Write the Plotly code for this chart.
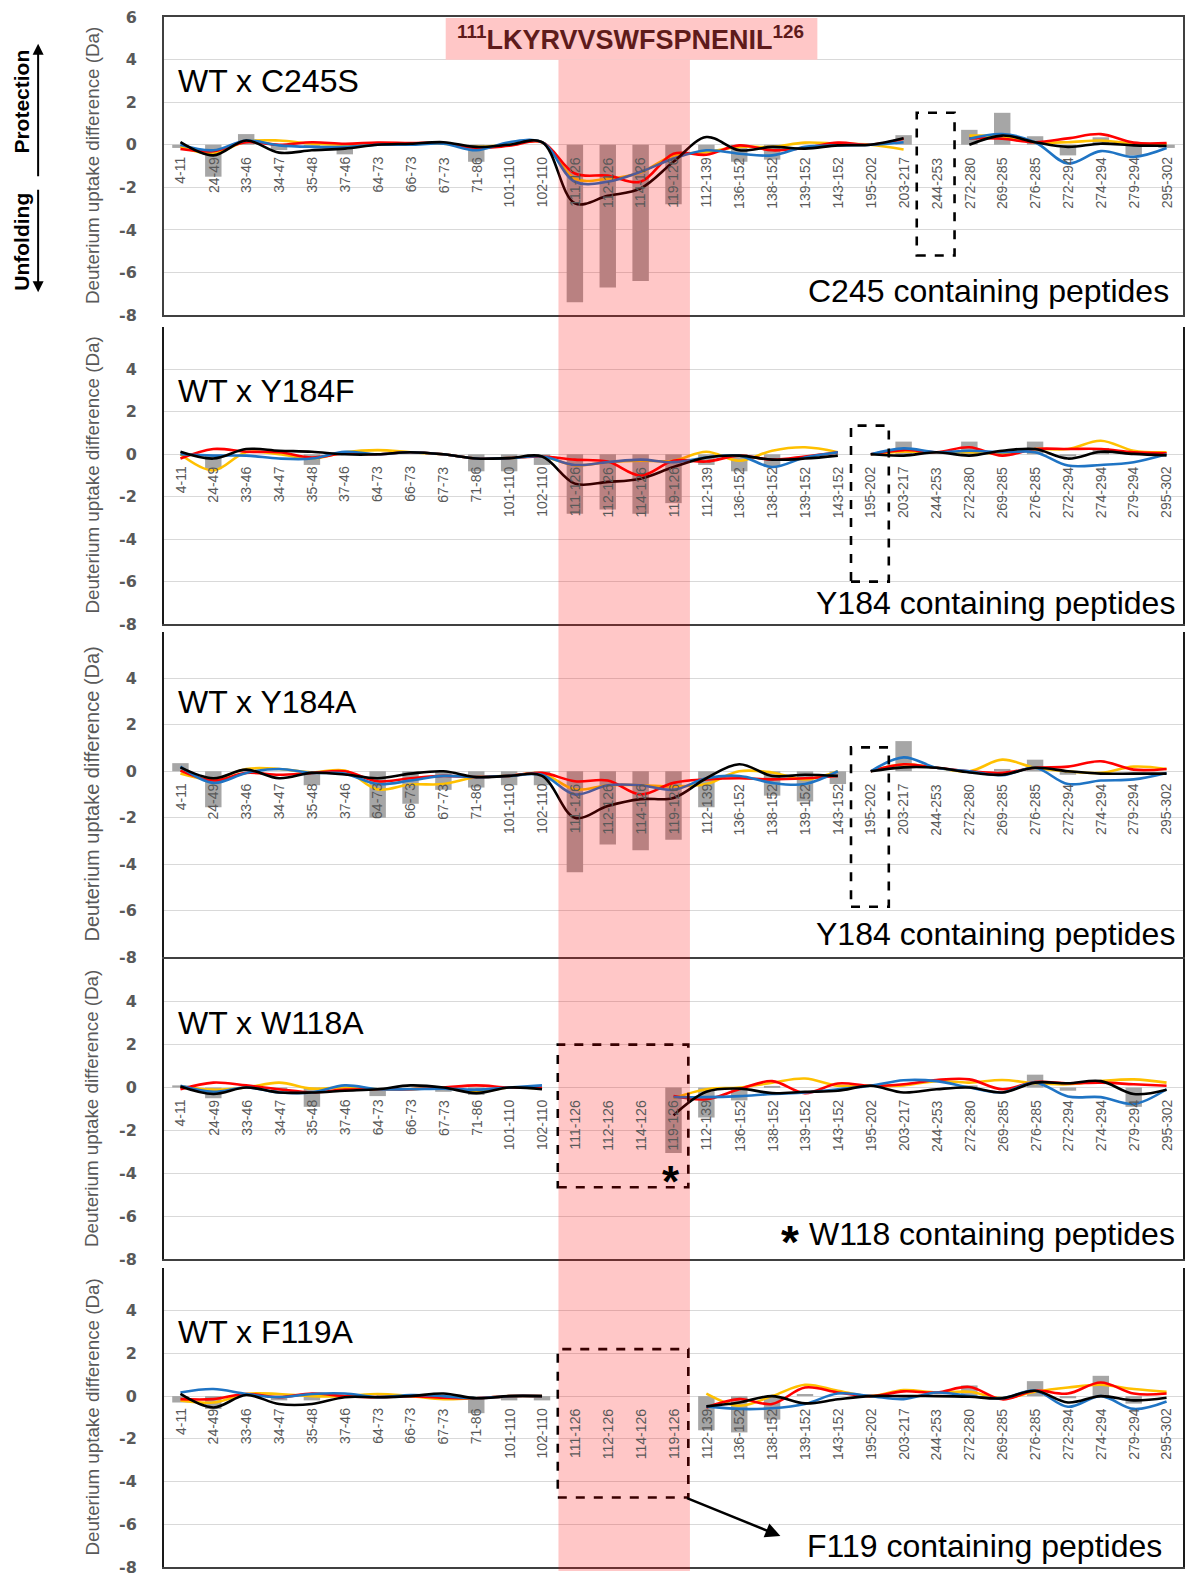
import plotly.graph_objects as go

# ---------------- data ----------------
peptides = ["4-11", "24-49", "33-46", "34-47", "35-48", "37-46", "64-73", "66-73", "67-73", "71-86",
            "101-110", "102-110", "111-126", "112-126", "114-126", "119-126", "112-139", "136-152",
            "138-152", "139-152", "143-152", "195-202", "203-217", "244-253", "272-280", "269-285",
            "276-285", "272-294", "274-294", "279-294", "295-302"]

panel_titles = ["WT x C245S", "WT x Y184F", "WT x Y184A", "WT x W118A", "WT x F119A"]
panel_notes = ["C245 containing peptides", "Y184 containing peptides", "Y184 containing peptides",
               "W118 containing peptides", "F119 containing peptides"]
highlight_peptides = ["111-126", "112-126", "114-126", "119-126"]
sequence_label = "<sup>111</sup>LKYRVVSWFSPNENIL<sup>126</sup>"

N = None
# WT x C245S
bars_c245s = [-0.15, -1.5, 0.5, -0.25, -0.1, -0.45, 0, 0, 0, -0.8, 0, 0, -7.4, -6.7, -6.4, -2.8,
              -0.4, -0.8, -0.7, 0, 0, 0, 0.45, N, 0.7, 1.5, 0.4, -0.5, 0.35, -0.5, -0.15]
yellow_c245s = [-0.1, -0.42, 0.15, 0.2, 0.05, 0.0, 0.05, 0.05, 0.05, -0.1, 0.0, 0.12, -1.6, -1.6, -1.3, -0.5,
                -0.35, -0.1, -0.1, 0.1, 0.05, 0.0, -0.22, N, 0.43, 0.4, 0.12, 0.12, 0.2, 0.05, 0.05]
red_c245s = [-0.2, -0.3, 0.12, 0.0, 0.12, 0.05, 0.1, 0.08, 0.08, -0.15, -0.05, 0.12, -1.35, -1.45, -1.74, -0.42,
             -0.47, -0.03, -0.26, -0.15, 0.1, 0.0, 0.28, N, 0.3, 0.28, 0.12, 0.3, 0.5, 0.1, 0.08]
blue_c245s = [0.0, -0.26, 0.2, -0.03, -0.1, -0.1, 0.0, 0.0, 0.05, -0.26, 0.12, 0.12, -1.74, -1.74, -1.27, -0.65,
              -0.26, -0.42, -0.5, -0.1, -0.03, 0.0, 0.12, N, 0.28, 0.5, 0.12, -0.88, -0.3, -0.57, -0.15]
black_c245s = [0.12, -0.5, 0.2, -0.37, -0.26, -0.18, 0.0, 0.05, 0.12, -0.1, 0.0, 0.12, -2.75, -2.4, -2.05, -0.8,
               0.36, -0.26, -0.1, -0.18, -0.03, 0.0, 0.3, N, 0.0, 0.43, 0.12, -0.1, 0.05, -0.03, -0.05]

# WT x Y184F
bars_y184f = [0, -0.7, 0, 0, -0.5, 0, 0, 0, 0, -0.8, -0.8, -0.5, -2.8, -2.6, -2.8, -2.3,
              -0.5, -0.8, -0.6, 0, 0, 0, 0.6, 0, 0.6, 0, 0.6, -0.1, 0.3, 0, 0]
yellow_y184f = [0.0, -0.76, 0.1, 0.0, -0.2, 0.1, 0.2, 0.1, 0.0, -0.2, -0.18, -0.1, -0.52, -0.37, -0.3, -0.3,
                0.12, -0.3, 0.17, 0.33, 0.1, 0.0, 0.12, 0.1, 0.1, 0.05, 0.25, 0.25, 0.64, 0.17, 0.1]
red_y184f = [-0.2, 0.25, 0.12, 0.1, -0.15, 0.05, 0.0, 0.1, 0.0, -0.2, -0.18, -0.1, -0.25, -0.34, -1.0, -0.3,
             -0.34, -0.06, -0.25, -0.1, 0.1, 0.0, 0.2, 0.1, 0.33, -0.06, 0.25, 0.25, 0.25, 0.1, 0.05]
blue_y184f = [0.0, -0.06, -0.06, -0.2, -0.2, 0.12, 0.0, 0.1, 0.0, -0.2, -0.18, -0.1, -0.5, -0.37, -0.25, -0.37,
              -0.15, -0.06, -0.6, -0.15, 0.1, 0.0, 0.28, 0.1, 0.17, 0.1, 0.1, -0.53, -0.5, -0.37, 0.0]
black_y184f = [0.12, -0.2, 0.25, 0.17, 0.12, 0.0, 0.0, 0.1, 0.0, -0.2, -0.18, -0.1, -1.38, -1.3, -1.15, -0.6,
               -0.15, -0.06, -0.25, -0.2, -0.06, 0.0, -0.06, 0.1, -0.06, 0.17, 0.25, -0.2, 0.12, 0.02, -0.05]

# WT x Y184A
bars_y184a = [0.35, -1.55, 0, 0, -0.6, 0, -2.0, -1.4, -0.8, -0.7, -0.6, -0.6, -4.35, -3.15, -3.4, -2.95,
              -1.55, 0, -1.05, -1.3, -0.55, 0, 1.3, 0, 0, 0.1, 0.5, -0.15, 0, 0, 0]
yellow_y184a = [-0.1, -0.35, 0.1, 0.1, -0.05, 0.03, -0.78, -0.57, -0.55, -0.25, -0.2, -0.1, -0.78, -0.6, -0.6, -0.65,
                -0.55, 0.0, -0.05, -0.35, 0.0, 0.0, 0.3, 0.15, 0.0, 0.5, 0.15, 0.0, -0.07, 0.2, 0.1]
red_y184a = [0.03, -0.4, -0.07, -0.15, -0.07, 0.0, -0.43, -0.3, -0.2, -0.25, -0.2, -0.07, -0.43, -0.4, -1.0, -0.5,
             -0.35, -0.3, -0.35, -0.3, -0.2, 0.0, 0.3, 0.15, 0.0, -0.07, 0.15, 0.2, 0.43, 0.07, 0.1]
blue_y184a = [0.2, -0.5, -0.07, 0.1, -0.07, -0.1, -0.55, -0.4, -0.2, -0.25, -0.2, -0.15, -1.0, -0.6, -0.6, -0.8,
              -0.3, -0.2, -0.5, -0.55, 0.0, 0.0, 0.6, 0.15, 0.0, -0.17, 0.15, -0.55, -0.4, -0.35, -0.07]
black_y184a = [0.17, -0.3, 0.07, -0.3, -0.07, -0.14, -0.3, -0.1, 0.0, -0.25, -0.2, -0.2, -2.0, -1.5, -1.2, -1.15,
               -0.3, 0.3, -0.2, -0.15, -0.2, 0.0, 0.17, 0.15, -0.05, -0.15, 0.15, 0.0, -0.1, -0.1, -0.1]

# WT x W118A
bars_w118a = [0.1, -0.5, 0, -0.2, -0.9, 0, -0.4, 0, -0.2, -0.35, 0, 0, N, N, N, -3.05,
              -1.4, -0.6, 0.05, 0, 0, 0, 0, 0, 0.1, 0, 0.6, -0.15, 0, -0.9, 0]
yellow_w118a = [0.05, -0.1, 0.0, 0.23, -0.05, 0.0, -0.08, -0.08, 0.0, -0.2, 0.0, -0.05, N, N, N, -0.5,
                -0.08, 0.0, 0.23, 0.42, 0.08, 0.08, 0.1, 0.3, 0.23, 0.35, 0.2, 0.15, 0.3, 0.38, 0.23]
red_w118a = [-0.08, 0.23, 0.1, -0.08, -0.23, -0.1, -0.08, -0.08, 0.0, 0.1, 0.0, 0.0, N, N, N, -0.4,
             -0.55, -0.08, 0.3, -0.26, 0.19, 0.08, 0.15, 0.35, 0.38, -0.08, 0.26, 0.2, 0.23, 0.15, 0.08]
blue_w118a = [0.08, -0.2, 0.0, -0.23, -0.23, 0.1, -0.08, -0.08, -0.05, -0.1, 0.0, 0.1, N, N, N, -0.45,
              -0.45, -0.4, -0.3, -0.23, -0.08, 0.08, 0.34, 0.3, 0.0, -0.23, 0.23, -0.42, -0.45, -0.77, -0.08]
black_w118a = [0.05, -0.3, 0.0, -0.23, -0.23, -0.15, -0.08, 0.1, 0.0, -0.26, 0.0, -0.08, N, N, N, -1.3,
               -0.2, -0.05, -0.26, -0.2, -0.15, 0.08, -0.23, -0.08, 0.0, -0.23, 0.23, 0.2, 0.3, -0.3, -0.1]

# WT x F119A
bars_f119a = [-0.3, -0.6, 0, -0.2, -0.2, 0, 0, 0, -0.1, -0.8, -0.2, -0.2, N, N, N, N,
              -1.6, -1.7, -1.1, 0.1, 0, 0, 0, 0, 0.5, -0.1, 0.7, -0.1, 0.95, -0.35, 0]
yellow_f119a = [-0.2, -0.3, 0.1, 0.1, 0.0, 0.0, 0.1, 0.0, -0.14, -0.1, 0.0, 0.0, N, N, N, N,
                0.12, -0.45, 0.0, 0.53, 0.25, 0.0, 0.28, 0.17, 0.2, -0.1, 0.2, 0.4, 0.53, 0.33, 0.2]
red_f119a = [-0.14, -0.14, 0.1, -0.05, 0.12, 0.0, -0.05, 0.0, -0.08, -0.1, 0.0, 0.0, N, N, N, N,
             -0.53, -0.14, -0.37, 0.4, 0.17, 0.0, 0.22, 0.17, 0.43, -0.15, 0.25, 0.12, 0.64, 0.12, 0.12]
blue_f119a = [0.17, 0.33, 0.1, -0.05, 0.1, 0.12, -0.05, 0.05, 0.0, -0.1, 0.0, 0.0, N, N, N, N,
              -0.48, -0.6, -0.57, -0.37, 0.12, 0.0, -0.14, 0.17, 0.0, -0.1, 0.25, -0.5, 0.0, -0.6, -0.25]
black_f119a = [0.1, -0.53, 0.05, -0.37, -0.37, -0.05, -0.05, 0.0, 0.12, -0.1, 0.0, 0.0, N, N, N, N,
               -0.48, -0.3, 0.0, -0.34, -0.15, 0.0, 0.0, 0.0, -0.03, -0.1, 0.25, -0.3, 0.0, -0.2, -0.08]

panel_bars = [bars_c245s, bars_y184f, bars_y184a, bars_w118a, bars_f119a]
panel_lines = [
    [yellow_c245s, red_c245s, blue_c245s, black_c245s],
    [yellow_y184f, red_y184f, blue_y184f, black_y184f],
    [yellow_y184a, red_y184a, blue_y184a, black_y184a],
    [yellow_w118a, red_w118a, blue_w118a, black_w118a],
    [yellow_f119a, red_f119a, blue_f119a, black_f119a],
]
# peptide after which the line is interrupted
line_break_after = [None, "143-152", "143-152", None, None]
# peptides boxed as containing the mutated residue
boxed_peptides = [["244-253"], ["195-202"], ["195-202"], highlight_peptides, highlight_peptides]

y_ticks_first = [6, 4, 2, 0, -2, -4, -6, -8]
y_ticks_other = [4, 2, 0, -2, -4, -6, -8]

for arr in panel_bars + [l for p in panel_lines for l in p]:
    assert len(arr) == len(peptides)

# ---------------- styling / layout ----------------
W, H = 1187, 1579
ML, MR, MT, MB = 164, 3, 17, 2
PW = W - ML - MR
PH = H - MT - MB
NC = len(peptides)
SLOT = PW / NC


def pyp(py):
    return 1 - (py - MT) / PH


def pxp(px):
    return (px - ML) / PW


def dx(px):
    return (px - ML) / SLOT - 0.5


panel_px = [(17, 317), (329, 628), (636, 963), (965, 1267), (1276, 1577)]
box_y = [(1.5, -5.2), (1.35, -6.0), (1.03, -5.84), (2.0, -4.65), (2.2, -4.75)]
line_colors = ["#FFC000", "#FF0000", "#1F74C4", "#000000"]
GRAY_TXT = "#595959"
ARIAL = "Liberation Sans, Arial, sans-serif"

fig = go.Figure()
layout = dict(width=W, height=H, margin=dict(l=ML, r=MR, t=MT, b=MB),
              paper_bgcolor="white", plot_bgcolor="white", showlegend=False)
annotations = []
shapes = []

xs_idx = list(range(NC))

for p in range(5):
    n = p + 1
    xa = "x" if n == 1 else f"x{n}"
    ya = "y" if n == 1 else f"y{n}"
    top, bot = panel_px[p]

    fig.add_trace(go.Bar(x=xs_idx, y=panel_bars[p], marker_color="#A6A6A6", width=0.5,
                         marker_line_width=0, xaxis=xa, yaxis=ya, hoverinfo="skip"))
    brk = line_break_after[p]
    for vals, col in zip(panel_lines[p], line_colors):
        xs, ys = [], []
        for i, v in enumerate(vals):
            xs.append(i)
            ys.append(v)
            if brk is not None and peptides[i] == brk:
                xs.append(i + 0.5)
                ys.append(None)
        fig.add_trace(go.Scatter(x=xs, y=ys, mode="lines", connectgaps=False,
                                 line=dict(color=col, width=2.6, shape="spline", smoothing=1),
                                 xaxis=xa, yaxis=ya, hoverinfo="skip"))

    ticks = y_ticks_first if n == 1 else y_ticks_other
    frame_col = "#404040" if n == 1 else "#1a1a1a"
    layout["xaxis" if n == 1 else f"xaxis{n}"] = dict(
        domain=[0, 1], range=[-0.5, NC - 0.5], anchor=ya, showticklabels=False,
        showgrid=False, zeroline=False, showline=True, linecolor="#404040", linewidth=2,
        mirror=(n == 1), ticks="", fixedrange=True)
    layout["yaxis" if n == 1 else f"yaxis{n}"] = dict(
        domain=[pyp(bot), pyp(top)], range=[-8, 6], anchor=xa,
        tickvals=ticks, ticktext=["<b>" + str(t) + "</b>" for t in ticks],
        tickfont=dict(family="DejaVu Sans, sans-serif", size=16, color=GRAY_TXT),
        ticks="outside", ticklen=0, ticklabelstandoff=22,
        showgrid=True, gridcolor="#D9D9D9", gridwidth=1,
        zeroline=True, zerolinecolor="#D9D9D9", zerolinewidth=1.2,
        showline=True, linecolor=frame_col, linewidth=2, mirror=True, fixedrange=True)

    # category labels
    for i, pep in enumerate(peptides):
        annotations.append(dict(x=i, y=0, xref=xa, yref=ya, text=pep, textangle=-90,
                                showarrow=False, yanchor="top", xanchor="center", yshift=-10,
                                font=dict(family=ARIAL, size=14, color=GRAY_TXT)))
    # y-axis title
    annotations.append(dict(x=pxp(92), y=pyp((top + bot) / 2), xref="paper", yref="paper",
                            text="Deuterium uptake difference (Da)", textangle=-90, showarrow=False,
                            xanchor="center", yanchor="middle",
                            font=dict(family=ARIAL, size=20 if n == 3 else 18.8, color=GRAY_TXT)))
    # panel title
    annotations.append(dict(x=pxp(176), y=3.0, xref="paper", yref=ya, text=panel_titles[p],
                            showarrow=False, xanchor="left", yanchor="middle",
                            font=dict(family=ARIAL, size=32, color="black")))
    # bottom-right note
    right_px = 1165 if n == 5 else (1172 if n == 1 else 1178)
    annotations.append(dict(x=pxp(right_px), y=-6.85 if n in (1, 4) else -7.0, xref="paper", yref=ya,
                            text=panel_notes[p], showarrow=False, xanchor="right", yanchor="middle",
                            font=dict(family=ARIAL, size=32, color="black")))
    # dashed box around the peptides that contain the mutated residue
    idxs = [peptides.index(b) for b in boxed_peptides[p]]
    if len(idxs) == 1:
        bx0, bx1 = min(idxs) - 0.6, max(idxs) + 0.55
    else:
        bx0, bx1 = min(idxs) - 0.52, max(idxs) + 0.45
    shapes.append(dict(type="rect", xref=xa, yref=ya, x0=bx0, x1=bx1,
                       y0=box_y[p][1], y1=box_y[p][0],
                       line=dict(color="black", width=2.6, dash="dash"), layer="above"))

# asterisk in W118A panel and in its note
annotations.append(dict(x=dx(671), y=-4.0, xref="x4", yref="y4", text="<b>*</b>", showarrow=False,
                        xanchor="center", yanchor="middle", yshift=-8,
                        font=dict(family=ARIAL, size=44, color="black")))
annotations.append(dict(x=pxp(791), y=-6.85, xref="paper", yref="y4", text="<b>*</b>", showarrow=False,
                        xanchor="center", yanchor="middle", yshift=-8,
                        font=dict(family=ARIAL, size=46, color="black")))
# arrow in F119A panel
annotations.append(dict(x=dx(781), y=-6.55, xref="x5", yref="y5", ax=dx(686), ay=-4.75,
                        axref="x5", ayref="y5", text="", showarrow=True, arrowhead=2,
                        arrowsize=1.2, arrowwidth=2.5, arrowcolor="black"))

# highlighted region band
band_x0 = peptides.index(highlight_peptides[0]) - 0.5
band_x1 = peptides.index(highlight_peptides[-1]) + 0.5
shapes.append(dict(type="rect", xref="x", yref="paper", x0=band_x0, x1=band_x1,
                   y0=pyp(H + 2), y1=pyp(60), fillcolor="rgba(255,0,0,0.22)",
                   line=dict(width=0), layer="above"))
# sequence label box
shapes.append(dict(type="rect", xref="paper", yref="paper", x0=pxp(446), x1=pxp(818),
                   y0=pyp(60), y1=pyp(18), fillcolor="rgb(255,199,199)",
                   line=dict(width=0), layer="above"))
annotations.append(dict(x=pxp(631), y=pyp(38), xref="paper", yref="paper",
                        text="<b>" + sequence_label + "</b>", showarrow=False,
                        xanchor="center", yanchor="middle",
                        font=dict(family=ARIAL, size=27, color="#5E1B1B")))

# Protection / Unfolding
annotations.append(dict(x=pxp(21), y=pyp(102), xref="paper", yref="paper", text="<b>Protection</b>",
                        textangle=-90, showarrow=False, xanchor="center", yanchor="middle",
                        font=dict(family=ARIAL, size=21, color="black")))
annotations.append(dict(x=pxp(21), y=pyp(243), xref="paper", yref="paper", text="<b>Unfolding</b>",
                        textangle=-90, showarrow=False, xanchor="center", yanchor="middle",
                        font=dict(family=ARIAL, size=21, color="black")))
annotations.append(dict(x=pxp(38), y=pyp(44), xref="paper", yref="paper", ax=0, ay=134, text="",
                        showarrow=True, arrowhead=2, arrowsize=1.1, arrowwidth=2, arrowcolor="black"))
annotations.append(dict(x=pxp(38), y=pyp(294), xref="paper", yref="paper", ax=0, ay=-104, text="",
                        showarrow=True, arrowhead=2, arrowsize=1.1, arrowwidth=2, arrowcolor="black"))

layout["annotations"] = annotations
layout["shapes"] = shapes
fig.update_layout(**layout)
fig.write_html("out.html")
